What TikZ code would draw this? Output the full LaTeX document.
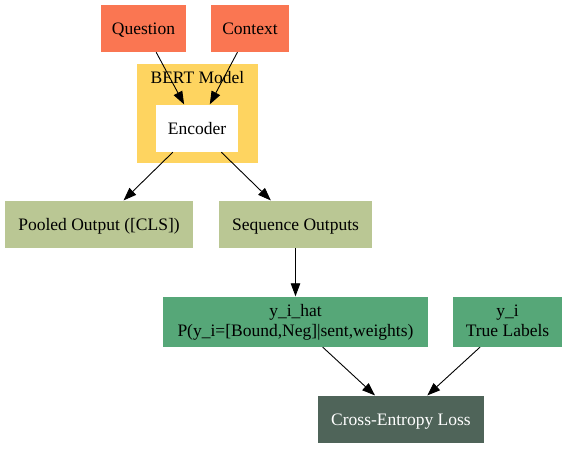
\documentclass[tikz,border=0pt]{standalone}
\usepackage{fontspec}
\setmainfont{Liberation Serif}
\usetikzlibrary{arrows.meta}
\definecolor{cin}{RGB}{250,118,82}
\definecolor{cbert}{RGB}{254,212,96}
\definecolor{cout}{RGB}{186,199,148}
\definecolor{cpred}{RGB}{86,167,120}
\definecolor{closs}{RGB}{79,100,89}
\tikzset{
  box/.style={rectangle, inner sep=0pt, font=\fontsize{17.5}{20}\selectfont, align=center},
  one/.style={text height=14pt, text depth=2pt},
  two/.style={text depth=2.5pt},
  edge/.style={draw=black, line width=0.9pt, -{Triangle[length=13pt,width=9.5pt]}, shorten >=0.5pt}
}
\begin{document}
\begin{tikzpicture}[x=1pt,y=-1pt]
\useasboundingbox (0,0) rectangle (568,449);
% cluster
\node[box, fill=cbert, minimum width=121pt, minimum height=99pt] (bert) at (197.5,113.5) {};
\node[box, one] (bertlabel) at (197.5,78) {BERT Model};
\node[box, one, fill=cin, minimum width=85pt, minimum height=47pt] (q) at (143.5,28.5) {Question};
\node[box, one, fill=cin, minimum width=78pt, minimum height=47pt] (c) at (250,28.5) {Context};
\node[box, one, fill=white, minimum width=82pt, minimum height=47pt] (enc) at (197,128.5) {Encoder};
\node[box, one, fill=cout, minimum width=188pt, minimum height=47pt] (pool) at (99,224.5) {Pooled Output ([CLS])};
\node[box, one, fill=cout, minimum width=153pt, minimum height=47pt] (seq) at (295.5,224.5) {Sequence Outputs};
\node[box, two, fill=cpred, minimum width=265pt, minimum height=50pt] (yhat) at (295.5,322) {y\_i\_hat\\P(y\_i=[Bound,Neg]|sent,weights)};
\node[box, two, fill=cpred, minimum width=109pt, minimum height=50pt] (yi) at (507.5,322) {y\_i\\True Labels};
\node[box, one, fill=closs, text=white, minimum width=166pt, minimum height=47pt] (loss) at (401,419.5) {Cross-Entropy Loss};
\draw[edge] (q) -- (enc);
\draw[edge] (c) -- (enc);
\draw[edge] (enc) -- (pool);
\draw[edge] (enc) -- (seq);
\draw[edge] (seq) -- (yhat);
\draw[edge] (yhat) -- (loss);
\draw[edge] (yi) -- (loss);
\end{tikzpicture}
\end{document}
